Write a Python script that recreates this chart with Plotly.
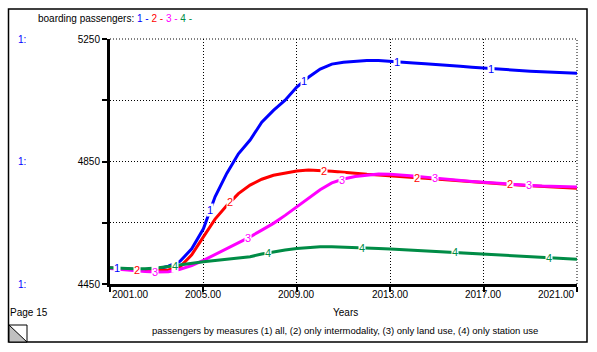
import numpy as np
import plotly.graph_objects as go

# ---------------- data ----------------
years = [2001 + 0.5 * i for i in range(41)]

s1_all = [4502, 4500, 4497, 4496, 4498, 4508, 4524, 4565, 4630, 4735,
          4811, 4875, 4920, 4978, 5017, 5050, 5093, 5125, 5152, 5168,
          5174, 5178, 5180, 5180, 5178, 5175, 5172, 5169, 5167, 5164,
          5161, 5158, 5155, 5152, 5149, 5147, 5145, 5143, 5141, 5140, 5138]

s2_intermodality = [4502, 4499, 4497, 4495, 4494, 4496, 4506, 4545, 4604, 4662,
                    4706, 4745, 4773, 4792, 4805, 4812, 4819, 4822, 4821, 4818,
                    4815, 4811, 4808, 4806, 4804, 4801, 4798, 4795, 4792, 4789,
                    4786, 4783, 4781, 4779, 4776, 4773, 4771, 4769, 4767, 4765, 4763]

s3_land_use = [4501, 4497, 4493, 4491, 4489, 4490, 4498, 4510, 4527, 4546,
               4566, 4585, 4604, 4626, 4648, 4674, 4702, 4731, 4758, 4780,
               4793, 4801, 4806, 4809, 4808, 4806, 4803, 4799, 4795, 4792,
               4789, 4785, 4782, 4779, 4777, 4774, 4772, 4770, 4769, 4768, 4767]

s4_station = [4503, 4501, 4500, 4500, 4502, 4507, 4513, 4518, 4523, 4527,
              4531, 4535, 4539, 4548, 4555, 4561, 4566, 4570, 4572, 4572,
              4571, 4570, 4568, 4566, 4564, 4562, 4560, 4558, 4556, 4554,
              4552, 4550, 4548, 4546, 4544, 4542, 4540, 4538, 4535, 4533, 4531]

series_names = ["1", "2", "3", "4"]
series_values = [s1_all, s2_intermodality, s3_land_use, s4_station]
series_colors = ["#0000FF", "#FF0000", "#FF00FF", "#008C46"]
label_start = [2001.3, 2002.15, 2002.93, 2003.78]   # first on-line label year per series

x_ticks = [2001, 2005, 2009, 2013, 2017, 2021]
x_tick_labels = ["2001.00", "2005.00", "2009.00", "2013.00", "2017.00", "2021.00"]
y_range = [4450, 5250]
y_label_vals = [5250, 4850, 4450]

title_text = "boarding passengers:"
x_title = "Years"
page_text = "Page 15"
footer_text = "passengers by measures (1) all, (2) only intermodality, (3) only land use, (4) only station use"

FONT = "Liberation Sans, Arial, sans-serif"
FS = 10

# ---------------- layout geometry ----------------
W, H = 597, 352
L, R, T, B = 110, 20, 39, 68
PW, PH = W - L - R, H - T - B


def px(x):
    return (x - L) / PW


def py(y):
    return (H - B - y) / PH


fig = go.Figure()
for name, vals, col in zip(series_names, series_values, series_colors):
    fig.add_trace(go.Scatter(x=years, y=vals, mode="lines", name=name,
                             line=dict(color=col, width=3), hoverinfo="skip"))

ann = []
# on-line numeric labels
for name, vals, col, start in zip(series_names, series_values, series_colors, label_start):
    lx = start
    while lx < 2020.5:
        ly = float(np.interp(lx, years, vals))
        ann.append(dict(x=lx, y=ly, xref="x", yref="y", text=name, showarrow=False,
                        font=dict(family=FONT, size=11, color=col),
                        bgcolor="white", borderpad=0, xanchor="center", yanchor="middle"))
        lx += 4.0

# header with coloured series numbers
parts = [title_text + " "]
for name, col in zip(series_names, series_colors):
    parts.append(f"<span style='color:{col}'>{name} - </span>")
ann.append(dict(x=px(36), y=py(19), xref="paper", yref="paper", text="".join(parts),
                showarrow=False, xanchor="left", yanchor="middle",
                font=dict(family=FONT, size=FS, color="black")))

# "1:" scale markers
for v in y_label_vals:
    ann.append(dict(x=px(16), y=v, xref="paper", yref="y", text="1:", showarrow=False,
                    xanchor="left", yanchor="middle",
                    font=dict(family=FONT, size=FS, color="#0000FF")))

# x tick labels
for i, (tv, tl) in enumerate(zip(x_ticks, x_tick_labels)):
    anchor = "left" if i == 0 else ("right" if i == len(x_ticks) - 1 else "center")
    ann.append(dict(x=tv, y=py(294), xref="x", yref="paper", text=tl, showarrow=False,
                    xanchor=anchor, yanchor="middle",
                    font=dict(family=FONT, size=FS, color="black")))

ann.append(dict(x=px(345), y=py(312), xref="paper", yref="paper", text=x_title,
                showarrow=False, xanchor="center", yanchor="middle",
                font=dict(family=FONT, size=FS, color="black")))
ann.append(dict(x=px(8), y=py(312), xref="paper", yref="paper", text=page_text,
                showarrow=False, xanchor="left", yanchor="middle",
                font=dict(family=FONT, size=FS, color="black")))
ann.append(dict(x=px(345), y=py(330), xref="paper", yref="paper", text=footer_text,
                showarrow=False, xanchor="center", yanchor="middle",
                font=dict(family=FONT, size=9.5, color="black")))

dot = "1px,2px"
shapes = [
    # outer frame
    dict(type="rect", xref="paper", yref="paper", x0=px(8.5), x1=px(587), y0=py(9), y1=py(342),
         line=dict(color="black", width=1.5), fillcolor="rgba(0,0,0,0)", layer="below"),
    # dotted edge grid lines (top and right)
    dict(type="line", xref="paper", yref="paper", x0=0, x1=1, y0=1, y1=1,
         line=dict(color="black", width=1, dash=dot), layer="below"),
    dict(type="line", xref="paper", yref="paper", x0=1, x1=1, y0=0, y1=1,
         line=dict(color="black", width=1, dash=dot), layer="below"),
    # corner icon: grey triangle, box, diagonal
    dict(type="path", xref="paper", yref="paper",
         path=f"M {px(9)} {py(325)} L {px(27)} {py(342)} L {px(9)} {py(342)} Z",
         fillcolor="#C0C0C0", line=dict(width=0)),
    dict(type="rect", xref="paper", yref="paper", x0=px(9), x1=px(27), y0=py(325), y1=py(342),
         line=dict(color="black", width=1)),
    dict(type="line", xref="paper", yref="paper", x0=px(9), x1=px(27), y0=py(325), y1=py(342),
         line=dict(color="black", width=1)),
]

fig.update_layout(
    width=W, height=H, margin=dict(l=L, r=R, t=T, b=B),
    paper_bgcolor="white", plot_bgcolor="white", showlegend=False,
    font=dict(family=FONT, size=FS, color="black"),
    annotations=ann, shapes=shapes,
    xaxis=dict(range=[x_ticks[0], x_ticks[-1]], tick0=x_ticks[0], dtick=4,
               showticklabels=False, ticks="outside", ticklen=5, tickwidth=2, tickcolor="black",
               showline=True, linecolor="black", linewidth=3, mirror=False,
               showgrid=True, gridcolor="black", gridwidth=1, griddash=dot,
               zeroline=False, fixedrange=True),
    yaxis=dict(range=y_range, tick0=y_range[0], dtick=400,
               ticks="outside", ticklen=5, tickwidth=2, tickcolor="black",
               tickfont=dict(family=FONT, size=FS, color="black"),
               showline=True, linecolor="black", linewidth=3, mirror=False,
               showgrid=True, gridcolor="black", gridwidth=1, griddash=dot,
               minor=dict(dtick=200, tick0=y_range[0], ticks="outside", ticklen=5,
                          tickwidth=2, tickcolor="black", showgrid=True,
                          gridcolor="black", gridwidth=1, griddash=dot),
               zeroline=False, fixedrange=True),
)

fig.write_html("out.html")
